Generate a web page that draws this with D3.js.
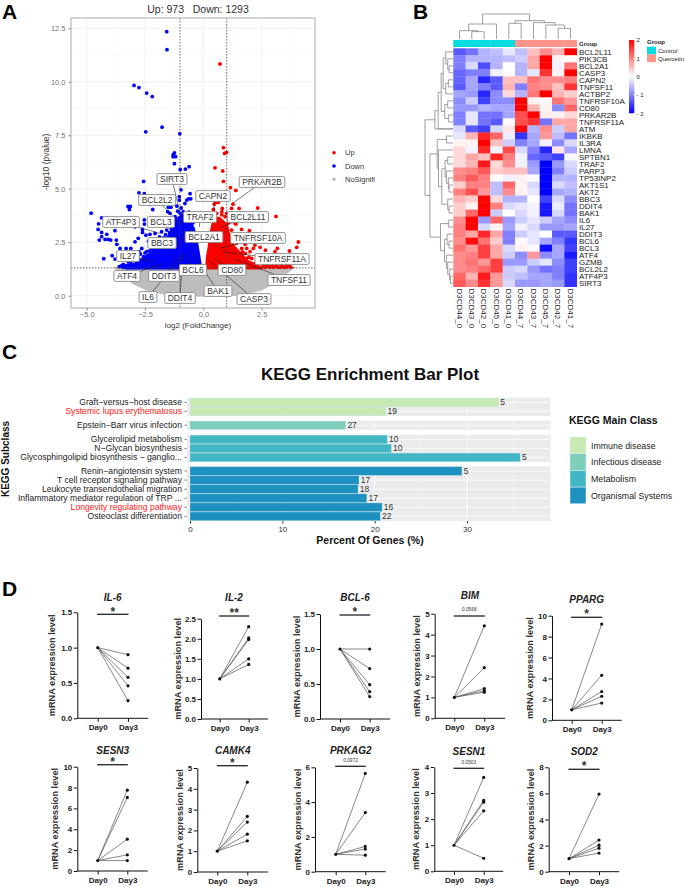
<!DOCTYPE html>
<html>
<head>
<meta charset="utf-8">
<script src="https://d3js.org/d3.v7.min.js"></script>
<style>
  html, body { margin: 0; padding: 0; background: #fff; }
  text { font-family: "Liberation Sans", Arial, sans-serif; }
</style>
</head>
<body>
<div id="chart"></div>
<script>
// ---------- A: volcano data ----------
var volcanoTitle = "Up: 973   Down: 1293";
var volcanoXTicks = [-5, -2.5, 0, 2.5];
var volcanoYTicks = [0, 2.5, 5, 7.5, 10, 12.5];
var legendNames = ["Up", "Down", "NoSignifi"];

var downPoints = [[-1.57,12.34],[-1.56,11.5],[-2.97,9.83],[-2.76,9.73],[-2.43,9.47],[-2.19,9.31],[-2.47,7.66],[-1.77,7.88],[-1.01,7.57],
  [-1.24,6.68],[-1.29,6.59],[-1.3,6.5],[-1.19,6.5],[-1.24,6.17],[-0.99,5.9],[-0.77,5.92],[-0.61,6.03],[-2.56,5.34],[-2.76,4.81],[-2.53,4.77],
  [-0.57,4.77],[-0.96,4.95],[-0.64,4.53],[-0.54,4.53],[-0.71,4.47],[-1.03,4.63],[-1.03,4.47],[-1.5,4.13],[-1.39,4.13],[-1.14,4.19],[-1.53,3.93],
  [-2.29,4.27],[-2.17,4.03],[-3.23,4.17],[-3.13,4.17],[-3.17,4.03],[-4.81,3.86],[-4.36,3.64],[-4.49,3.36],[-4.51,3.1],[-4.36,2.96],[-4.46,2.6],
  [-4.36,2.76],[-4.14,2.87],[-4.21,2.63],[-4.07,2.63],[-3.97,2.6],[-3.73,2.6],[-3.79,3.04],[-3.71,2.4],[-4.27,1.73],[-3.91,1.87],[-3.79,1.71],
  [-3.57,2.21],[-3.31,2.21],[-3.11,2.21],[-2.93,2.52],[-2.79,2.68],[-2.93,3.22],[-2.93,3.41],[-2.53,3.54],[-2.53,3.35],[-2.61,3.1],[-2.61,2.96],
  [-2.46,2.83],[-2.29,2.87],[-2.07,2.91],[-1.79,2.99],[-1.57,3.07],[-1.36,3.1],[-2.64,2.21],[-2.76,2.06],[-2.43,2.06],[-2.93,1.98],[-3.36,1.82],
  [-3.21,1.59],[-3,1.67],[-2.79,1.74],[-2.57,1.82],[-3.43,1.46],[-3.5,1.4],[-3.29,1.4],[-3.07,1.4],[-2.86,1.43],[-2.64,1.51],[-2.36,1.67],
  [-2.21,1.9],[-2.07,2.13],[-1.86,2.06],[-1.71,2.29],[-2,1.74],[-2.43,1.51],[-1.43,3.85],[-1.21,3.69],[-1,3.85],[-1.57,3.54],[-1.36,3.46],
  [-1.14,3.46],[-0.93,3.61],[-0.86,3.93],[-0.79,4.31],[-1.29,3.22],[-1.07,3.22],[-1.5,3.3],[-1.79,2.6],[-1.95,2.45],[-2.2,2.4],[-2.35,2.55],
  [-2.95,1.82],[-2.7,1.95],[-2.5,2],[-2.3,2.1],[-2.2,2.2],[-2.05,2.35],[-1.9,2.55],[-1.7,2.7],[-1.62,2.85],[-1.45,2.95],[-1.3,3.3],[-1.2,3.55],
  [-1.65,2.5],[-1.5,2.6],[-2.6,1.65],[-2.8,1.6],[-3.1,1.5],[-3.35,1.33],[-3.2,1.33],[-3.05,1.33],[-2.9,1.33],[-2.75,1.33],[-2.6,1.33],[-2.45,1.33],
  [-3.45,1.33],[-3.6,1.36],[-2.25,1.85],[-2.4,1.85],[-1.98,2.6],[-1.88,2.75],[-0.62,3.9],[-0.7,3.75],[-0.95,4.1],[-1.1,3.95],[-0.45,3.4]];

var upPoints = [[0.71,10.83],[0.86,6.92],[0.99,6.7],[0.91,6.65],[0.5,5.98],[0.83,5.83],[0.86,5.34],[1.16,5.05],[1.39,4.92],[0.54,4.36],[0.64,4.36],
  [0.47,4.28],[1.27,4.28],[0.43,4.03],[0.81,4.08],[1.21,4.08],[1.53,4.08],[2.33,4.1],[3.11,3.71],[0.57,3.85],[0.79,3.78],[1,3.85],[1.36,3.38],
  [1.97,3.04],[4.07,2.51],[4,2.26],[3.69,2.09],[3.17,2.21],[3.07,2.06],[2.66,2.13],[2.43,2.26],[2.14,2.21],[1.79,2.4],[1.86,2.21],[1.64,2.63],
  [2.07,2.63],[0.64,3.61],[0.79,3.93],[0.93,3.69],[1.07,3.41],[1.29,3.69],[1.4,3.35],[1.21,3.07],[1.64,3.1],[1.5,2.83],[1.79,2.83],[1.29,2.68],
  [1.43,2.45],[1.64,2.21],[1.57,1.98],[1.79,1.98],[2,2.06],[2.21,2.37],[1.86,1.74],[2.07,1.74],[2.29,1.82],[2.5,1.74],[1.36,1.74],[1.5,1.59],
  [1.71,1.51],[1.93,1.51],[2.14,1.36],[2.21,1.51],[2.57,1.4],[2.71,1.43],[2.93,1.4],[3.14,1.4],[3.36,1.39],[3.57,1.39],[3.64,1.43],[3.07,1.36],[2.8,1.36],
  [2.65,1.33],[2.85,1.33],[3,1.33],[3.2,1.33],[3.3,1.33],[3.45,1.33],[3.55,1.33],[3.7,1.36],[3.75,1.33],[2.35,1.65],[1.95,1.8],[1.68,2.05]];

// outlines of the clouds too dense to read point by point
var downCloud = [[-3.3,1.3],[-3.3,1.42],[-2.9,1.5],[-2.55,1.75],[-2.1,2.1],[-1.8,2.4],[-1.5,2.75],[-1.25,3.2],[-1.1,3.6],[-0.85,3.8],[-0.62,3.55],[-0.43,3.15],[-0.3,2.55],[-0.2,1.9],[-0.11,1.3]];
var upCloud = [[0.14,1.3],[0.17,1.8],[0.25,2.3],[0.32,2.9],[0.42,3.4],[0.7,3.6],[1,3.3],[1.1,2.8],[1.3,2.3],[1.6,1.95],[1.9,1.6],[2.3,1.4],[2.5,1.3]];
var greyCloud = [[-3.75,1.3],[-3.0,0.57],[-2.3,0.23],[-1.3,0.03],[0,0],[1.3,0.03],[2.43,0.26],[3.14,0.65],[3.71,1.2],[3.85,1.3]];

var geneLabels = ["SIRT3","PRKAR2B","CAPN2","BCL2L2","TRAF2","BCL2L11","ATF4P3","BCL3","BCL2A1","TNFRSF10A","BBC3","IL27","TNFRSF11A","BCL6","CD80","ATF4","DDIT3","TNFSF11","BAK1","IL6","DDIT4","CASP3"];
var geneFC = [-1,1.26,0.53,-0.93,-0.17,0.79,-1.86,-0.86,0.57,0.71,-1,-2.14,0.79,-0.79,0.5,-1.71,-1.14,1.29,-0.57,-0.93,-0.89,0.21];
var genePval = [3.85,4.32,3.46,3.3,3.22,3.22,2.91,2.6,2.29,2.21,2.45,1.59,2.06,1.98,1.74,1.51,1.82,1.74,2.13,1.82,1.98,1.67];

// ---------- B: heatmap data ----------
var sampleNames = ["D3CD44_0","D3CD43_0","D3CD42_0","D3CD45_0","D3CD41_0","D3CD44_7","D3CD43_7","D3CD45_7","D3CD42_7","D3CD41_7"];
var groupNames = ["Control","Quercetin"];
var heatRows = ["BCL2L11","PIK3CB","BCL2A1","CASP3","CAPN2","TNFSF11","ACTBP2","TNFRSF10A","CD80","PRKAR2B","TNFRSF11A","ATM","IKBKB","IL3RA","LMNA","SPTBN1","TRAF2","PARP3","TP53INP2","AKT1S1","AKT2","BBC3","DDIT4","BAK1","IL6","IL27","DDIT3","BCL6","BCL3","ATF4","GZMB","BCL2L2","ATF4P3","SIRT3"];
var heatValues = [
  [-1.3,-1.1,-0.6,-0.5,-0.2,-0.5,0.5,0.9,0.6,2],
  [-1,-0.6,-0.6,-0.6,-0.5,-0.4,0.7,2,0.1,0],
  [-1,-0.3,-1.4,-0.6,0,-0.6,0.7,2,-0.1,1.1],
  [-1.2,-1,-1,-0.1,0.05,-0.6,-0.2,1.6,0.1,2],
  [-1.2,-0.7,-1.7,-1.3,0.5,0.5,1.1,0.9,0.9,1],
  [-1.3,-0.7,-1,-1.3,0.6,-1,1,0.9,0.5,1.6],
  [-0.7,-0.8,-1.7,-0.9,0.3,-0.6,1.1,2,0.6,0.4],
  [-0.9,-0.4,-1.5,-0.9,-0.9,2,0.1,0.05,1.1,0.8],
  [-0.8,-0.8,-0.6,-0.7,-0.7,2,0.6,0.1,-0.9,1.2],
  [-1,-0.2,-1.1,-1.1,-0.7,1.4,2,0.15,0.1,0.3],
  [-1,-0.2,-1.1,-1.3,0.05,1.4,1.6,-1.1,0.7,0.7],
  [-0.3,-1.3,-1.5,-0.3,0.2,2,-0.6,0.9,-0.4,0.7],
  [-0.2,0.6,1.7,1.2,-0.15,-1.6,-0.7,0.8,-0.5,-1.1],
  [0.1,0.1,2,0.5,-0.4,-1,-0.7,-0.1,-0.9,-0.3],
  [0.3,-0.1,1.7,-0.1,1.4,-0.3,-1,-1.7,0.2,-0.7],
  [0.3,0.7,0.5,1.7,1,-0.1,-1.2,-1.3,-1.5,-0.05],
  [0.3,0.6,1.8,0.3,0.9,-0.1,-0.8,-2,-0.8,-0.3],
  [0.9,1,1.3,0.4,0.5,0.5,-0.7,-2,-1,-0.4],
  [1,1.3,1,0,-0.1,0.1,0.05,-2,-0.6,-0.6],
  [0.4,1,1,-0.5,1.2,0.1,-0.3,-2,-0.3,-0.5],
  [1,1.4,0.8,-0.5,0.9,0.1,-0.2,-2,-0.7,-0.6],
  [0.6,0.4,2,0.3,-0.6,-0.6,0,-1.5,-0.3,-0.9],
  [0.4,0.1,2,1,-0.3,-0.2,-0.1,-1.8,-0.15,-1.1],
  [0.4,1.2,2,-0.4,0,-0.3,-0.1,-1.8,-0.3,-1.1],
  [0.9,2,-0.8,1.2,-0.8,-0.4,-0.2,-0.4,-0.7,-0.9],
  [1,2,-0.3,0.1,-0.7,-0.1,-0.3,-0.8,-0.8,-0.7],
  [1,0.7,1.7,0.7,-1,-0.4,-0.2,0,-1.3,-1.3],
  [0.9,1.9,1.1,0.4,-1,0.05,-0.2,-0.7,-1,-1.6],
  [1.1,0.8,1.5,0.7,-0.3,0.1,-0.05,-1.9,-0.7,-1.5],
  [0.9,1,1.5,0.7,-0.4,-0.9,0.8,-0.9,-0.7,-1.8],
  [0.9,1.1,0.8,1.5,-0.8,-0.8,-0.4,-0.2,-0.9,-1.5],
  [0.9,1,1.2,1.5,-0.4,-0.3,-0.8,-1.1,-1,-1.5],
  [1.2,0.6,1.8,0.8,-0.4,-0.5,-0.7,-0.7,-1,-1.6],
  [1.3,0.9,1.6,0.8,-0.3,-0.8,-0.8,-0.7,-0.8,-1.6]
];
var heatLegendTicks = [2, 1, 0, -1, -2];

// dendrograms: [height, left, right], a bare number is a leaf index
var colTree = [75,
  [45, [25, 0, [22, 1, 2]], 3],
  [55, [47, 4, 5], [49, 6, [42, 7, [32, 8, 9]]]]];
var rowTree = [85,
  [55, [45, [36,
        [30, [22, 0, [16, 1, [12, 2, 3]]], [22, [14, 4, 5], 6]],
        [25, [16, 7, 8], [14, 9, 10]]], 11], 11.5],
  [70, [48, [20, 12, 13], [44, 14,
        [34, [24, [16, 15, 16], [20, 17, [14, 18, [12, 19, 20]]]], [16, 21, [12, 22, 23]]]]],
    [38, [14, 24, 25], [26, [18, 26, [12, 27, 28]], [20, 29, [16, 30, [10, 31, [8, 32, 33]]]]]]]];

// ---------- C: KEGG data ----------
var keggTitle = "KEGG Enrichment Bar Plot";
var keggClasses = ["Immune disease","Infectious disease","Metabolism","Organismal Systems"];
var keggColors = ["#c7e9b4","#7fcdbb","#41b6c4","#1d91c0"];
var keggTerms = [
  ["Graft\u2212versus\u2212host disease","Systemic lupus erythematosus"],
  ["Epstein\u2212Barr virus infection"],
  ["Glycerolipid metabolism","N\u2212Glycan biosynthesis","Glycosphingolipid biosynthesis \u2212 ganglio..."],
  ["Renin\u2212angiotensin system","T cell receptor signaling pathway","Leukocyte transendothelial migration","Inflammatory mediator regulation of TRP ...","Longevity regulating pathway","Osteoclast differentiation"]
];
var keggPercent = [[33.4,21.2],[16.85],[21.35,21.8,35.75],[29.45,18.3,18.2,19.15,20.8,20.6]];
var keggCounts = [[5,19],[27],[10,10,5],[5,17,18,17,16,22]];
var keggRedTerms = ["Systemic lupus erythematosus","Longevity regulating pathway"];
var keggTicks = [0, 10, 20, 30];

// ---------- D: paired qPCR data ----------
var dayLabels = ["Day0","Day3"];
var pairedGenes = ["IL-6","IL-2","BCL-6","BIM","PPARG","SESN3","CAMK4","PRKAG2","SESN1","SOD2"];
var pairedSig = ["*","**","*","0.0568","*","*","*","0.0972","0.0503","*"];
var pairedYTicks = [
  [0,0.5,1,1.5],[0,0.5,1,1.5,2,2.5],[0,0.5,1,1.5],[0,1,2,3,4,5],[0,2,4,6,8,10],
  [0,2,4,6,8,10],[0,1,2,3,4,5],[0,2,4,6],[0,1,2,3,4],[0,2,4,6,8]
];
var day0Values = [1, 1, 1, 1, 1];
var day3Values = [
  [0.9,0.71,0.58,0.46,0.25],
  [2.3,2.02,1.98,1.5,1.36],
  [1,0.72,0.49,0.39,0.32],
  [4.42,2.42,1.42,1.32,1.25],
  [9.2,4.3,2.75,2.3,1.65],
  [7.75,7.05,3.05,1.55,1],
  [4.32,2.67,2.4,1.82,1.5],
  [5.65,3.4,1.45,1.3,0.95],
  [3.6,2.72,2.65,2.32,0.5],
  [5.95,2.43,2.03,1.8,1.43]
];

// ---------- layout (pixels) ----------
var width = 685, height = 887;
var svg = d3.select("#chart").append("svg").attr("width", width).attr("height", height);

[["A",2,19],["B",413,19],["C",2,359],["D",2,596]].forEach(function(d){
  svg.append("text").attr("x", d[1]).attr("y", d[2]).attr("font-size", 21).attr("font-weight", "bold").text(d[0]);
});

// ---------- panel A ----------
(function(){
  var g = svg.append("g");
  var x = d3.scaleLinear().domain([-5, 2.5]).range([86.7, 261.7]);
  var y = d3.scaleLinear().domain([0, 12.5]).range([295.7, 28.3]);
  var left = 71, right = 315, top = 18, bottom = 308;
  var ink = { up: "#ff0000", down: "#0000ff", grey: "#bdbdbd" };

  g.append("text").attr("x", 198).attr("y", 12.5).attr("text-anchor", "middle").attr("font-size", 10.5).attr("fill", "#333")
    .attr("xml:space", "preserve").text(volcanoTitle);

  // grid
  var minorX = [-3.75,-1.25,1.25,3.75], minorY = [1.25,3.75,6.25,8.75,11.25];
  minorX.forEach(function(v){ g.append("line").attr("x1",x(v)).attr("x2",x(v)).attr("y1",top).attr("y2",bottom).attr("stroke","#f5f5f5").attr("stroke-width",0.5); });
  minorY.forEach(function(v){ g.append("line").attr("x1",left).attr("x2",right).attr("y1",y(v)).attr("y2",y(v)).attr("stroke","#f5f5f5").attr("stroke-width",0.5); });
  volcanoXTicks.forEach(function(v){ g.append("line").attr("x1",x(v)).attr("x2",x(v)).attr("y1",top).attr("y2",bottom).attr("stroke","#ededed").attr("stroke-width",0.8); });
  volcanoYTicks.forEach(function(v){ g.append("line").attr("x1",left).attr("x2",right).attr("y1",y(v)).attr("y2",y(v)).attr("stroke","#ededed").attr("stroke-width",0.8); });

  var cloudLine = d3.line().x(function(d){ return x(d[0]); }).y(function(d){ return y(d[1]); }).curve(d3.curveLinearClosed);
  g.append("path").attr("d", cloudLine(greyCloud)).attr("fill", ink.grey).attr("stroke", ink.grey).attr("stroke-width", 2);
  g.append("path").attr("d", cloudLine(downCloud)).attr("fill", ink.down).attr("stroke", ink.down).attr("stroke-width", 3).attr("stroke-linejoin","round");
  g.append("path").attr("d", cloudLine(upCloud)).attr("fill", ink.up).attr("stroke", ink.up).attr("stroke-width", 3).attr("stroke-linejoin","round");

  g.selectAll(".down").data(downPoints).enter().append("circle").attr("class","down")
    .attr("cx", function(d){ return x(d[0]); }).attr("cy", function(d){ return y(d[1]); }).attr("r", 1.9).attr("fill", ink.down);
  g.selectAll(".up").data(upPoints).enter().append("circle").attr("class","up")
    .attr("cx", function(d){ return x(d[0]); }).attr("cy", function(d){ return y(d[1]); }).attr("r", 1.9).attr("fill", ink.up);

  // cut-off lines
  [-1, 1].forEach(function(v){
    g.append("line").attr("x1",x(v)).attr("x2",x(v)).attr("y1",top).attr("y2",bottom).attr("stroke","#444").attr("stroke-width",0.8).attr("stroke-dasharray","1.5,1.5");
  });
  g.append("line").attr("x1",left).attr("x2",right).attr("y1",y(1.3)).attr("y2",y(1.3)).attr("stroke","#444").attr("stroke-width",0.8).attr("stroke-dasharray","1.5,1.5");

  g.append("rect").attr("x",left).attr("y",top).attr("width",right-left).attr("height",bottom-top).attr("fill","none").attr("stroke","#b8b8b8").attr("stroke-width",1.2);

  var xAxis = g.append("g").attr("transform","translate(0,"+bottom+")").call(d3.axisBottom(x).tickValues(volcanoXTicks).tickFormat(d3.format(".1f")).tickSize(2.5).tickPadding(1.5));
  var yAxis = g.append("g").attr("transform","translate("+left+",0)").call(d3.axisLeft(y).tickValues(volcanoYTicks).tickFormat(d3.format(".1f")).tickSize(2.5));
  [xAxis, yAxis].forEach(function(a){
    a.select(".domain").remove();
    a.selectAll("line").attr("stroke","#888");
    a.selectAll("text").attr("font-size",7.5).attr("fill","#777").attr("font-family","Liberation Sans");
  });

  g.append("text").attr("x",198).attr("y",328).attr("text-anchor","middle").attr("font-size",8).attr("fill","#333").text("log2 (FoldChange)");
  g.append("text").attr("transform","translate(49,162) rotate(-90)").attr("text-anchor","middle").attr("font-size",8.5).attr("fill","#333").text("-log10 (pvalue)");

  // legend
  legendNames.forEach(function(name, i){
    var ly = 152.7 + i * 13.3;
    g.append("circle").attr("cx",334).attr("cy",ly).attr("r",1.8).attr("fill",[ink.up,ink.down,ink.grey][i]);
    g.append("text").attr("x",345).attr("y",ly+2.5).attr("font-size",7.5).attr("fill","#333").text(name);
  });

  // gene labels, box centres
  var boxAt = {SIRT3:[172,179],PRKAR2B:[262,182],CAPN2:[213,196],BCL2L2:[157,200],TRAF2:[200,217],BCL2L11:[248,217],ATF4P3:[121,222],BCL3:[161,222],BCL2A1:[204,237],TNFRSF10A:[258,238],BBC3:[162,243],IL27:[128,256],TNFRSF11A:[282,259],BCL6:[193,270],CD80:[232,270],ATF4:[127,276],DDIT3:[164,276],TNFSF11:[289,280],BAK1:[218,291],IL6:[148,297],DDIT4:[180,298],CASP3:[254,299]};
  geneLabels.forEach(function(name, i){
    var b = boxAt[name];
    g.append("line").attr("x1",b[0]).attr("y1",b[1]).attr("x2",x(geneFC[i])).attr("y2",y(genePval[i])).attr("stroke","#222").attr("stroke-width",0.6);
  });
  geneLabels.forEach(function(name){
    var b = boxAt[name];
    var lg = g.append("g");
    var rect = lg.append("rect");
    var t = lg.append("text").attr("x",b[0]).attr("y",b[1]+3).attr("text-anchor","middle").attr("font-size",8.5).attr("fill","#333").text(name);
    var w = t.node().getComputedTextLength() + 6;
    rect.attr("x",b[0]-w/2).attr("y",b[1]-5.4).attr("width",w).attr("height",10.8).attr("rx",1.2)
      .attr("fill","#fff").attr("stroke","#888").attr("stroke-width",0.9);
  });
})();

// ---------- panel B ----------
(function(){
  var g = svg.append("g");
  var x = d3.scaleBand().domain(d3.range(sampleNames.length)).range([453.3, 576.7]);
  var y = d3.scaleBand().domain(d3.range(heatRows.length)).range([48.3, 286.7]);
  var color = d3.scaleLinear().domain([-2,0,2]).range(["#0000ff","#ffffff","#ff0000"]).clamp(true);
  var groupColors = ["#00dbe0","#ff9289"];

  heatValues.forEach(function(row, r){
    g.selectAll(".r"+r).data(row).enter().append("rect").attr("class","r"+r)
      .attr("x",function(d,c){ return x(c); }).attr("y",y(r))
      .attr("width",x.bandwidth()+0.3).attr("height",y.bandwidth()+0.3)
      .attr("fill",function(d){ return color(d); });
  });

  sampleNames.forEach(function(name, c){
    g.append("rect").attr("x",x(c)).attr("y",40).attr("width",x.bandwidth()+0.3).attr("height",7)
      .attr("fill",groupColors[c < 5 ? 0 : 1]);
    g.append("text").attr("transform","translate("+(x(c)+x.bandwidth()/2-2.8)+",288.5) rotate(90)")
      .attr("font-size",8).attr("fill","#222").text(name);
  });

  heatRows.forEach(function(name, r){
    g.append("text").attr("x",579).attr("y",y(r)+y.bandwidth()/2+3).attr("font-size",8).attr("fill","#222").text(name);
  });
  g.append("text").attr("x",579).attr("y",45.5).attr("font-size",6).attr("font-weight","bold").attr("fill","#222").text("Group");

  // dendrograms
  var colH = d3.scaleLinear().domain([0,75]).range([39,14]);
  var rowH = d3.scaleLinear().domain([0,85]).range([453,425]);
  function drawTree(node, pos, hgt, horizontal, p){
    if (typeof node === "number") return { at: pos(node), h: 0 };
    var a = drawTree(node[1], pos, hgt, horizontal, p);
    var b = drawTree(node[2], pos, hgt, horizontal, p);
    var h = node[0];
    if (horizontal) {
      p.moveTo(a.at, hgt(a.h)); p.lineTo(a.at, hgt(h)); p.lineTo(b.at, hgt(h)); p.lineTo(b.at, hgt(b.h));
    } else {
      p.moveTo(hgt(a.h), a.at); p.lineTo(hgt(h), a.at); p.lineTo(hgt(h), b.at); p.lineTo(hgt(b.h), b.at);
    }
    return { at: (a.at + b.at) / 2, h: h };
  }
  var cp = d3.path();
  drawTree(colTree, function(i){ return x(i)+x.bandwidth()/2; }, colH, true, cp);
  g.append("path").attr("d",cp.toString()).attr("fill","none").attr("stroke","#777").attr("stroke-width",0.7);
  var rp = d3.path();
  drawTree(rowTree, function(i){ return y(Math.floor(i))+y.bandwidth()/2; }, rowH, false, rp);
  g.append("path").attr("d",rp.toString()).attr("fill","none").attr("stroke","#777").attr("stroke-width",0.7);

  // colour bar
  var defs = svg.append("defs");
  var grad = defs.append("linearGradient").attr("id","heatBar").attr("x1",0).attr("x2",0).attr("y1",0).attr("y2",1);
  [[0,2],[0.5,0],[1,-2]].forEach(function(s){ grad.append("stop").attr("offset",s[0]).attr("stop-color",color(s[1])); });
  var barY = d3.scaleLinear().domain([2,-2]).range([40,113.3]);
  g.append("rect").attr("x",629).attr("y",40).attr("width",5.3).attr("height",73.3).attr("fill","url(#heatBar)");
  heatLegendTicks.forEach(function(v){
    g.append("line").attr("x1",633).attr("x2",634.3).attr("y1",barY(v)).attr("y2",barY(v)).attr("stroke","#fff").attr("stroke-width",0.5);
    g.append("text").attr("x",636.5).attr("y",barY(v)+2.2).attr("font-size",6).attr("fill","#222").text(v < 0 ? "- " + (-v) : v);
  });

  g.append("text").attr("x",647).attr("y",44).attr("font-size",6).attr("font-weight","bold").attr("fill","#222").text("Group");
  groupNames.forEach(function(name, i){
    g.append("rect").attr("x",647).attr("y",46.7+i*7.7).attr("width",9).attr("height",7.7).attr("fill",groupColors[i]);
    g.append("text").attr("x",658).attr("y",52.8+i*7.7).attr("font-size",6).attr("fill","#222").text(name);
  });
})();

// ---------- panel C ----------
(function(){
  var g = svg.append("g");
  var x = d3.scaleLinear().domain([0,30]).range([190,467]);
  var left = x(-0.33), right = x(39.05);
  var facetTop = [397.7, 420.7, 434.7, 466.3];
  var step = 9.13;

  g.append("text").attr("x",370).attr("y",380).attr("text-anchor","middle").attr("font-size",17).attr("font-weight","bold").attr("fill","#111").text(keggTitle);

  keggTerms.forEach(function(terms, f){
    var y = d3.scaleBand().domain(terms).range([facetTop[f], facetTop[f] + terms.length * step]).padding(0.05);
    var h = terms.length * step;
    g.append("rect").attr("x",left).attr("y",facetTop[f]).attr("width",right-left).attr("height",h).attr("fill","#ebebeb");
    d3.range(0,40,5).forEach(function(v){
      g.append("line").attr("x1",x(v)).attr("x2",x(v)).attr("y1",facetTop[f]).attr("y2",facetTop[f]+h).attr("stroke","#fff").attr("stroke-width",v % 10 ? 0.4 : 0.8);
    });
    terms.forEach(function(term, i){
      var cy = y(term) + y.bandwidth()/2;
      g.append("line").attr("x1",left).attr("x2",right).attr("y1",cy).attr("y2",cy).attr("stroke","#fff").attr("stroke-width",0.8);
      g.append("rect").attr("x",x(0)).attr("y",y(term)).attr("width",x(keggPercent[f][i])-x(0)).attr("height",y.bandwidth())
        .attr("fill",keggColors[f]).attr("stroke","#b9dfe6").attr("stroke-width",0.3);
      g.append("text").attr("x",x(keggPercent[f][i])+1.8).attr("y",cy+3).attr("font-size",8.5).attr("fill","#333").text(keggCounts[f][i]);
      g.append("line").attr("x1",left-2.5).attr("x2",left).attr("y1",cy).attr("y2",cy).attr("stroke","#333").attr("stroke-width",0.6);
      g.append("text").attr("x",left-5).attr("y",cy+3).attr("text-anchor","end").attr("font-size",8.6)
        .attr("fill",keggRedTerms.indexOf(term) >= 0 ? "#ff2020" : "#222").text(term);
    });
  });

  var axisG = g.append("g").attr("transform","translate(0,521)").call(d3.axisBottom(x).tickValues(keggTicks).tickSize(2.5));
  axisG.select(".domain").remove();
  axisG.selectAll("line").attr("stroke","#333");
  axisG.selectAll("text").attr("font-size",8).attr("fill","#333").attr("font-family","Liberation Sans");

  g.append("text").attr("x",370).attr("y",544).attr("text-anchor","middle").attr("font-size",10.5).attr("font-weight","bold").attr("fill","#111").text("Percent Of Genes (%)");
  g.append("text").attr("transform","translate(9,459) rotate(-90)").attr("text-anchor","middle").attr("font-size",10).attr("font-weight","bold").attr("fill","#111").text("KEGG Subclass");

  g.append("text").attr("x",569).attr("y",424).attr("font-size",10.5).attr("font-weight","bold").attr("fill","#111").text("KEGG Main Class");
  keggClasses.forEach(function(name, i){
    g.append("rect").attr("x",570).attr("y",437+i*16.7).attr("width",16).attr("height",16.7).attr("fill",keggColors[i]).attr("stroke","#e8f4f4").attr("stroke-width",0.5);
    g.append("text").attr("x",591).attr("y",437+i*16.7+11.5).attr("font-size",8.8).attr("fill","#222").text(name);
  });
})();

// ---------- panel D ----------
(function(){
  // axisX, y0, yTop, day0, day3, xEnd, titleX, titleY, barY, sigY (centre of the mark), labelX
  var panelAt = [
    [77.3,718.3,612.3,97.7,128,148,112.7,600.5,614.3,609,52],
    [201,719,618.7,219.7,248.7,268,234,600.5,616,610,177.7],
    [320,719,614,340,369.7,390,355,600.5,615,609,296.7],
    [434.7,718.3,613.7,454.3,484.3,505,470,598.5,616,609.7,417],
    [552,720.3,615.7,571.7,601.7,621.7,586.7,603,617.3,611,530],
    [77.3,871,766.7,97.7,127.3,147.7,112.7,754,764.7,759,55],
    [197.3,872,768,217.3,247.3,267.7,232.7,754,765.7,760,180.3],
    [315,871.7,767.3,335.7,365.3,385.7,350.8,754,766.3,760,298],
    [434.3,871.3,767,454,483.7,503.3,469,754.5,768.3,762.3,416],
    [548.7,871.7,767.3,569,599,619.3,584.3,754.5,769.3,763.3,531]
  ];

  pairedGenes.forEach(function(gene, i){
    var p = panelAt[i];
    var g = svg.append("g");
    var ticks = pairedYTicks[i];
    var x = d3.scalePoint().domain(dayLabels).range([p[3], p[4]]);
    var y = d3.scaleLinear().domain([0, ticks[ticks.length-1]]).range([p[1], p[2]]);
    var decimals = ticks[1] < 1;

    var yAxis = g.append("g").attr("transform","translate("+p[0]+",0)")
      .call(d3.axisLeft(y).tickValues(ticks).tickFormat(d3.format(decimals ? ".1f" : "d")).tickSize(3.5).tickSizeOuter(0).tickPadding(1.5));
    var xAxis = g.append("g").attr("transform","translate(0,"+p[1]+")")
      .call(d3.axisBottom(x).tickSize(3.5).tickSizeOuter(0).tickPadding(3));
    xAxis.select(".domain").remove();
    g.append("line").attr("x1",p[0]).attr("x2",p[5]).attr("y1",p[1]).attr("y2",p[1]).attr("stroke","#111").attr("stroke-width",1);
    [xAxis, yAxis].forEach(function(a){
      a.selectAll(".domain").attr("stroke","#111").attr("stroke-width",1);
      a.selectAll("line").attr("stroke","#111").attr("stroke-width",1);
      a.selectAll("text").attr("font-size",8).attr("font-weight","bold").attr("fill","#222").attr("font-family","Liberation Sans");
    });

    day3Values[i].forEach(function(v, k){
      g.append("line").attr("x1",x(dayLabels[0])).attr("y1",y(day0Values[k])).attr("x2",x(dayLabels[1])).attr("y2",y(v))
        .attr("stroke","#555").attr("stroke-width",0.7);
      g.append("circle").attr("cx",x(dayLabels[1])).attr("cy",y(v)).attr("r",1.6).attr("fill","#111");
    });
    g.append("circle").attr("cx",x(dayLabels[0])).attr("cy",y(1)).attr("r",1.6).attr("fill","#111");

    g.append("text").attr("x",p[6]).attr("y",p[7]).attr("text-anchor","middle").attr("font-size",10).attr("font-weight","bold").attr("font-style","italic").attr("fill","#222").text(gene);
    g.append("line").attr("x1",p[3]-0.5).attr("x2",p[4]+0.5).attr("y1",p[8]).attr("y2",p[8]).attr("stroke","#222").attr("stroke-width",1.3);
    var star = pairedSig[i].charAt(0) === "*";
    g.append("text").attr("x",(p[3]+p[4])/2).attr("y",star ? p[9]+6.6 : p[9]+1.7).attr("text-anchor","middle")
      .attr("font-size",star ? 12 : 4.8).attr("font-weight",star ? "bold" : "normal").attr("fill","#333").text(pairedSig[i]);
    g.append("text").attr("transform","translate("+(p[10]+3)+","+((p[1]+p[2])/2)+") rotate(-90)").attr("text-anchor","middle")
      .attr("font-size",9.2).attr("font-weight","bold").attr("fill","#333").text("mRNA expression level");
  });
})();
</script>
</body>
</html>
